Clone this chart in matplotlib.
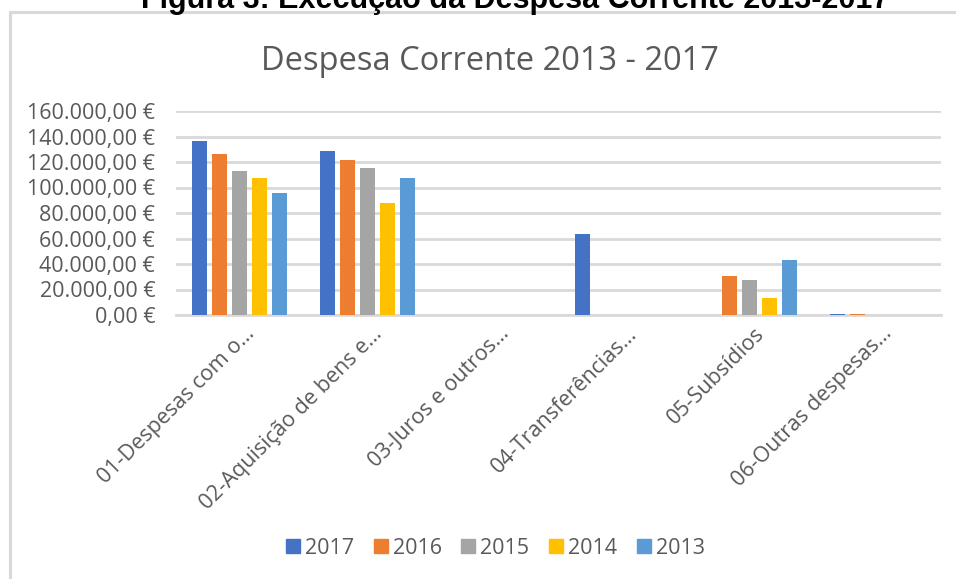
import matplotlib
matplotlib.use("Agg")
import matplotlib.pyplot as plt
import matplotlib.transforms as mtransforms
from matplotlib.lines import Line2D
from matplotlib.patches import Rectangle
from matplotlib.ticker import FuncFormatter, MultipleLocator
import numpy as np

# ── data ─────────────────────────────────────────────────────────────
categories = [
    "01-Despesas com o…",
    "02-Aquisição de bens e…",
    "03-Juros e outros…",
    "04-Transferências…",
    "05-Subsídios",
    "06-Outras despesas…",
]
years = ["2017", "2016", "2015", "2014", "2013"]
v2017 = [136700, 128900, 0, 63300, 0, 1000]
v2016 = [126600, 121900, 0, 0, 30500, 1000]
v2015 = [113300, 115600, 0, 0, 27300, 0]
v2014 = [107800, 87500, 0, 0, 13300, 0]
v2013 = [95300, 107800, 0, 0, 43000, 0]
series = [v2017, v2016, v2015, v2014, v2013]

colors = ["#4472C4", "#ED7D31", "#A5A5A5", "#FFC000", "#5B9BD5"]
GRID = "#D9D9D9"
TEXT = "#595959"
FONT = "Open Sans"

W, H = 956, 579
fig = plt.figure(figsize=(W / 100, H / 100), dpi=100)
ax = fig.add_axes([176 / W, 1 - 315 / H, (941 - 176) / W, (315 - 111) / H])

x = np.arange(len(categories))
step = 20 / 127.5
width = 15 / 127.5
for i, (vals, col) in enumerate(zip(series, colors)):
    ax.bar(x + (i - 2) * step, vals, width=width, color=col, zorder=3)

ax.set_xlim(-0.5, len(categories) - 0.5)
ax.set_ylim(0, 160000)
ax.yaxis.set_major_locator(MultipleLocator(20000))


def euro(v, _pos):
    s = f"{v:,.2f}".replace(",", "X").replace(".", ",").replace("X", ".")
    return f"{s} €"


ax.yaxis.set_major_formatter(FuncFormatter(euro))
ax.grid(True, axis="y", color=GRID, linewidth=2, zorder=0)
for side in ("top", "right", "left"):
    ax.spines[side].set_visible(False)
ax.spines["bottom"].set_color(GRID)
ax.spines["bottom"].set_linewidth(2)
ax.tick_params(axis="both", length=0, colors=TEXT, labelsize=15.5)
ax.tick_params(axis="y", pad=15)
for lab in ax.get_yticklabels():
    lab.set_fontfamily(FONT)

ax.set_xticks(x)
ax.set_xticklabels(categories, rotation=45, ha="right", va="top",
                   fontfamily=FONT, fontsize=15.5, color=TEXT)
ax.tick_params(axis="x", pad=6)
shift = mtransforms.ScaledTranslation(19 / 100, 0, fig.dpi_scale_trans)
for lab in ax.get_xticklabels():
    lab.set_transform(lab.get_transform() + shift)

# chart title
fig.text(490 / W, 1 - 62 / H, "Despesa Corrente 2013 - 2017", ha="center",
         va="center", fontfamily=FONT, fontsize=23.5, color=TEXT)

# caption above the chart frame (cut off at the top, as in the source)
fig.text(515 / W, 1 - 0 / H, "Figura 3: Execução da Despesa Corrente 2013-2017",
         ha="center", va="center", fontfamily="Liberation Sans",
         fontweight="bold", fontsize=22, color="black")

# chart frame
fig.patches.append(Rectangle((9.5 / W, -0.1), 1.2, 1 - 12 / H + 0.1,
                             transform=fig.transFigure, fill=False,
                             edgecolor=GRID, linewidth=2.2))

handles = [Line2D([], [], marker="s", linestyle="none", markersize=9.5,
                  color=c) for c in colors]
fig.legend(handles, years, loc="center", bbox_to_anchor=(495 / W, 1 - 548 / H),
           ncol=5, frameon=False, handletextpad=0.2, columnspacing=0.9,
           handlelength=0.7, prop={"family": FONT, "size": 15.5},
           labelcolor=TEXT)

fig.savefig("out.png", dpi=100, facecolor="white")
